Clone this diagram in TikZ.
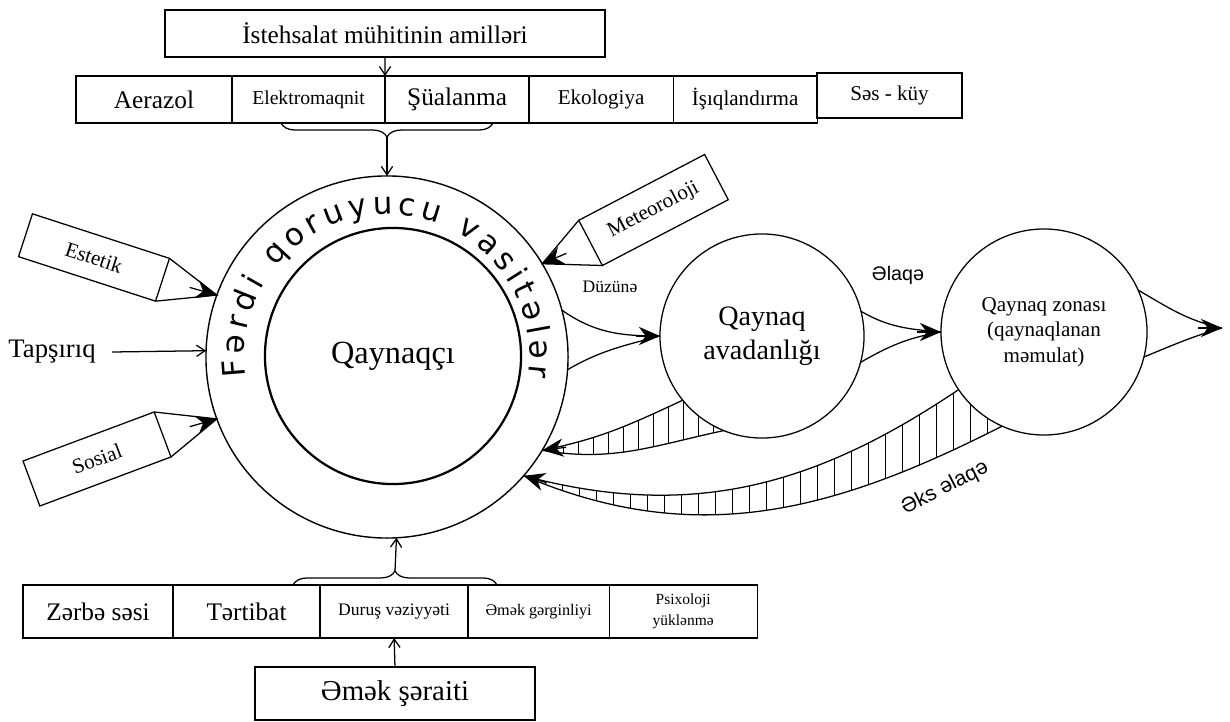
\documentclass[tikz,border=0pt]{standalone}
\usepackage{fontspec}
\setmainfont{Liberation Serif}
\setsansfont{Liberation Sans}
\newfontfamily\ringfont{DejaVu Sans}
\usetikzlibrary{positioning,arrows.meta,calc,backgrounds,
  decorations.pathreplacing,decorations.text}
\newcommand\fsz[2]{\fontsize{#1}{#2}\selectfont}

\begin{document}
\begin{tikzpicture}[x=0.025cm,y=0.025cm,line width=0.9pt,
  cell/.style={draw,outer sep=0pt,inner sep=1pt,
    minimum height=1.175cm,align=center},
  lowcell/.style={cell,minimum height=1.325cm},
  tag/.style={draw,outer sep=0pt,inner sep=2pt,font=\fsz{15}{18}},
  disc/.style={circle,draw,outer sep=0pt,inner sep=0pt,align=center},
  fatarrow/.style={-{Stealth[length=15pt,width=13pt]}},
  thinarrow/.style={-{Straight Barb[length=6pt,width=8pt]}},
  hatch/.style={line width=0.7pt}]
  \useasboundingbox (0,0) rectangle (1230,-722);

  % factors on top
  \node[cell,minimum width=11cm,font=\fsz{18}{21}] (amil) at (385,-33.5)
    {İstehsalat mühitinin amilləri};
  \node[cell,minimum width=3.9cm,anchor=north west,font=\fsz{18}{21}] (aer)
    at (76,-76) {Aerazol};
  \node[cell,minimum width=3.825cm,right=0pt of aer,font=\fsz{14}{17}] (elek)
    {Elektromaqnit};
  \node[cell,minimum width=3.6cm,right=0pt of elek,font=\fsz{18}{21}] (sual)
    {Şüalanma};
  \node[cell,minimum width=3.6cm,right=0pt of sual,font=\fsz{15}{18}] (ekol)
    {Ekologiya};
  \node[cell,minimum width=3.6cm,right=0pt of ekol,font=\fsz{15}{18}] (isiq)
    {İşıqlandırma};
  \node[cell,minimum width=3.625cm,minimum height=1.125cm,line width=1.3pt,
    anchor=north west,font=\fsz{15}{18}] (ses) at (817,-73) {Səs - küy};

  % circles
  \node[disc,minimum size=9.05cm,line width=1pt] (ring) at (387,-357) {};
  \node[disc,minimum size=6.4cm,line width=1.6pt,font=\fsz{23}{27}] (welder)
    at (393,-356) {Qaynaqçı};
  \node[disc,minimum size=5.1cm,fill=white,font=\fsz{20}{24}] (eq1)
    at (762,-336) {Qaynaq\\avadanlığı};
  \node[disc,minimum size=5.15cm,fill=white,font=\fsz{15}{18}] (eq2)
    at (1044,-332) {Qaynaq zonası\\(qaynaqlanan\\məmulat)};
  \path[decorate,decoration={text along path,text align={fit to path},
      text={|\ringfont\fsz{22}{26}|Fərdi qoruyucu vasitələr}}]
    ($(ring.center)+(188:143)$) arc[start angle=188,end angle=-8,radius=143];

  % factors at the bottom
  \node[lowcell,minimum width=3.75cm,anchor=north west,font=\fsz{18}{21}] (zarb)
    at (23,-585) {Zərbə səsi};
  \node[lowcell,minimum width=3.675cm,right=0pt of zarb,font=\fsz{18}{21}] (tert)
    {Tərtibat};
  \node[lowcell,minimum width=3.7cm,right=0pt of tert,font=\fsz{12.5}{15}] (durus)
    {Duruş vəziyyəti};
  \node[lowcell,minimum width=3.525cm,right=0pt of durus,font=\fsz{11.5}{14}] (gerg)
    {Əmək gərginliyi};
  \node[lowcell,minimum width=3.7cm,right=0pt of gerg,font=\fsz{11}{15}] (psix)
    {Psixoloji\\yüklənmə};
  \node[lowcell,minimum width=7cm,font=\fsz{20.5}{24}] (serait) at (395,-693.5)
    {Əmək şəraiti};

  % side factors
  \node[tag,minimum width=3.6cm,minimum height=1.125cm,rotate=-18] (est)
    at (94,-257.5) {Estetik};
  \node[tag,minimum width=3.5cm,minimum height=1.2cm,rotate=20.5] (sos)
    at (97,-459) {Sosial};
  \node[tag,minimum width=3.55cm,minimum height=1.275cm,rotate=27.6] (met)
    at (653.5,-210) {Meteoroloji};
  \node[font=\fsz{19}{22}] (tap) at (52,-352) {Tapşırıq};

  % arrows top and bottom
  \draw[thinarrow] (amil.south) -- (elek.north east);
  \draw[decorate,decoration={brace,amplitude=10pt}] (493,-123) -- (281,-123);
  \coordinate (tb) at (387,-137);
  \draw[thinarrow] (tb) -- (ring.north);
  \draw[decorate,decoration={brace,amplitude=10pt}] (293,-585) -- (497,-585);
  \coordinate (bb) at (395,-571);
  \draw[thinarrow] (bb) -- (ring.-87);
  \draw[thinarrow] (serait.north) -- (durus.south);
  \draw[thinarrow] ([xshift=8pt]tap.east) -- (ring.178);

  % pointers
  \draw (est.north east) -- (ring.160) -- (est.south east);
  \draw[fatarrow] ($(est.east)!0.5!(ring.160)$) -- (ring.160);
  \draw (sos.north east) -- (ring.200) -- (sos.south east);
  \draw[fatarrow] ($(sos.east)!0.5!(ring.200)$) -- (ring.200);
  \draw (met.north west) -- (ring.31) -- (met.south west);
  \draw[fatarrow] ($(met.west)!0.5!(ring.31)$) -- (ring.31);

  % forward links
  \draw (ring.15) to[out=-35,in=180] (eq1.west);
  \draw (ring.-4) to[out=30,in=195] (eq1.west);
  \draw[fatarrow] ($(eq1.west)+(-24,0)$) -- (eq1.west);
  \node[font=\fsz{12.5}{15}] (duz) at (610,-287) {Düzünə};
  \draw (eq1.14) to[out=-30,in=175] (eq2.west);
  \draw (eq1.-15) to[out=30,in=190] (eq2.west);
  \draw[fatarrow] ($(eq2.west)+(-24,0)$) -- (eq2.west);
  \node[font=\sffamily\fsz{14}{17}] (alaqa) at (898,-275) {Əlaqə};
  \coordinate (out) at (1222,-328);
  \draw (eq2.24) to[out=-30,in=168] (out);
  \draw (eq2.-14) to[out=22,in=196] (out);
  \draw[fatarrow] ($(out)+(-24,0)$) -- (out);

  % feedback
  \draw (eq1.219) to[out=205,in=11] (ring.-31);
  \draw (eq1.248) to[out=192,in=-10] (ring.-31);
  \draw[fatarrow] ($(ring.-31)+(24,3)$) -- (ring.-31);
  \draw (eq2.214) to[out=214,in=-15] (ring.-41);
  \draw (eq2.246) to[out=207,in=-23] (ring.-41);
  \draw[fatarrow] ($(ring.-41)+(23,-7)$) -- (ring.-41);
  \node[font=\sffamily\fsz{15}{18},rotate=27] (eks) at (945,-488) {Əks əlaqə};
  \begin{pgfonlayer}{background}
    \begin{scope}
      \clip (eq1.219) to[out=205,in=11] (ring.-31)
        to[out=-10,in=192] (eq1.248) -- cycle;
      \foreach \x in {548,563,...,730}
        \draw[hatch] (\x,-380) -- (\x,-480);
    \end{scope}
    \begin{scope}
      \clip (eq2.214) to[out=214,in=-15] (ring.-41)
        to[out=-23,in=207] (eq2.246) -- cycle;
      \foreach \x in {545,562,...,1010}
        \draw[hatch] (\x,-380) -- (\x,-540);
    \end{scope}
  \end{pgfonlayer}
\end{tikzpicture}
\end{document}
